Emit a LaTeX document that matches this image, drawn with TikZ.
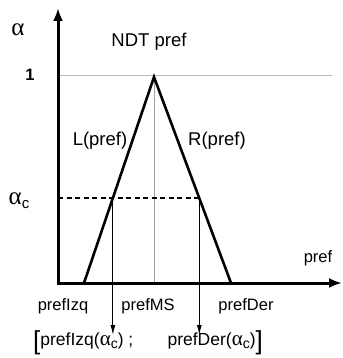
\documentclass[tikz,border=0pt]{standalone}
\usepackage{fontspec}
\setmainfont{Liberation Sans}
\newfontfamily\greekfont{Liberation Serif}
\usetikzlibrary{arrows.meta}
\newcommand{\alp}{{\greekfont α}}
\newcommand{\alpc}{{\fontsize{21}{22}\selectfont\greekfont α}\raisebox{-0.3ex}{\fontsize{14}{14}\selectfont c}}
\newcommand{\bigbr}[1]{\raisebox{-0.25em}{\fontsize{26}{26}\selectfont #1}}
\begin{document}
\begin{tikzpicture}[x=1pt,y=-1pt,
  axis/.style={line width=3pt,-{Latex[length=13pt,width=10pt]}},
  side/.style={line width=2.6pt},
  guide/.style={line width=1pt,draw=gray!55},
  mid/.style={line width=1pt,draw=gray!75},
  cut/.style={line width=1.3pt,dash pattern=on 5pt off 3.5pt},
  proj/.style={line width=1pt,-{Latex[length=10pt,width=5pt]}},
  lbl/.style={inner sep=0pt,font=\fontsize{16.5}{18}\selectfont},
  big/.style={inner sep=0pt,font=\fontsize{18.5}{20}\selectfont}]
\useasboundingbox (0,0) rectangle (342,358);
% coordinates
\coordinate (O) at (58,283);
\coordinate (Ytop) at (58,8);
\coordinate (Xend) at (342,283);
\coordinate (apex) at (154,77);
\coordinate (Lb) at (84,283);
\coordinate (Rb) at (231,283);
\coordinate (Mb) at (154,283);
\coordinate (G1) at (58,76);
\coordinate (G2) at (332,76);
\coordinate (Ca) at (58,198);
\coordinate (Cl) at (112.9,198);
\coordinate (Cr) at (199.3,198);
\coordinate (El) at (112.9,335);
\coordinate (Er) at (199.3,335);
% guides
\draw[guide] (G1) -- (G2);
\draw[mid] (apex) -- (Mb);
\draw[cut] (Ca) -- (Cr);
% triangle
\draw[side,line join=miter] (Lb) -- (apex) -- (Rb);
% projections
\draw[proj] (Cl) -- (El);
\draw[proj] (Cr) -- (Er);
% axes
\draw[axis] ([yshift=1.5pt]O) -- (Ytop);
\draw[axis] ([xshift=-1.5pt]O) -- (Xend);
% labels
\node[inner sep=0pt,font=\fontsize{25}{26}\selectfont] (al) at (18,30) {\alp};
\node[big,font=\bfseries\fontsize{16.5}{18}\selectfont] (one) at (30,75) {1};
\node[big] (ndt) at (149,42) {NDT pref};
\node[big] (lp) at (100,141) {L(pref)};
\node[big] (rp) at (217,141) {R(pref)};
\node[inner sep=0pt,font=\fontsize{25}{26}\selectfont] (alc) at (19,201) {{\greekfont α}\raisebox{-0.3ex}{\fontsize{15}{15}\selectfont c}};
\node[lbl] (pr) at (318,258) {pref};
\node[lbl] (pms) at (148,306) {prefMS};
\node[lbl] (piz) at (63,306) {prefIzq};
\node[lbl] (pde) at (246,306) {prefDer};
\node[lbl,anchor=west,font=\fontsize{17.5}{18}\selectfont] (bl) at (33,343) {\bigbr{[}prefIzq(\alpc) ;};
\node[lbl,anchor=east,font=\fontsize{17.5}{18}\selectfont] (br) at (263,343) {prefDer(\alpc)\bigbr{]}};
\end{tikzpicture}
\end{document}
